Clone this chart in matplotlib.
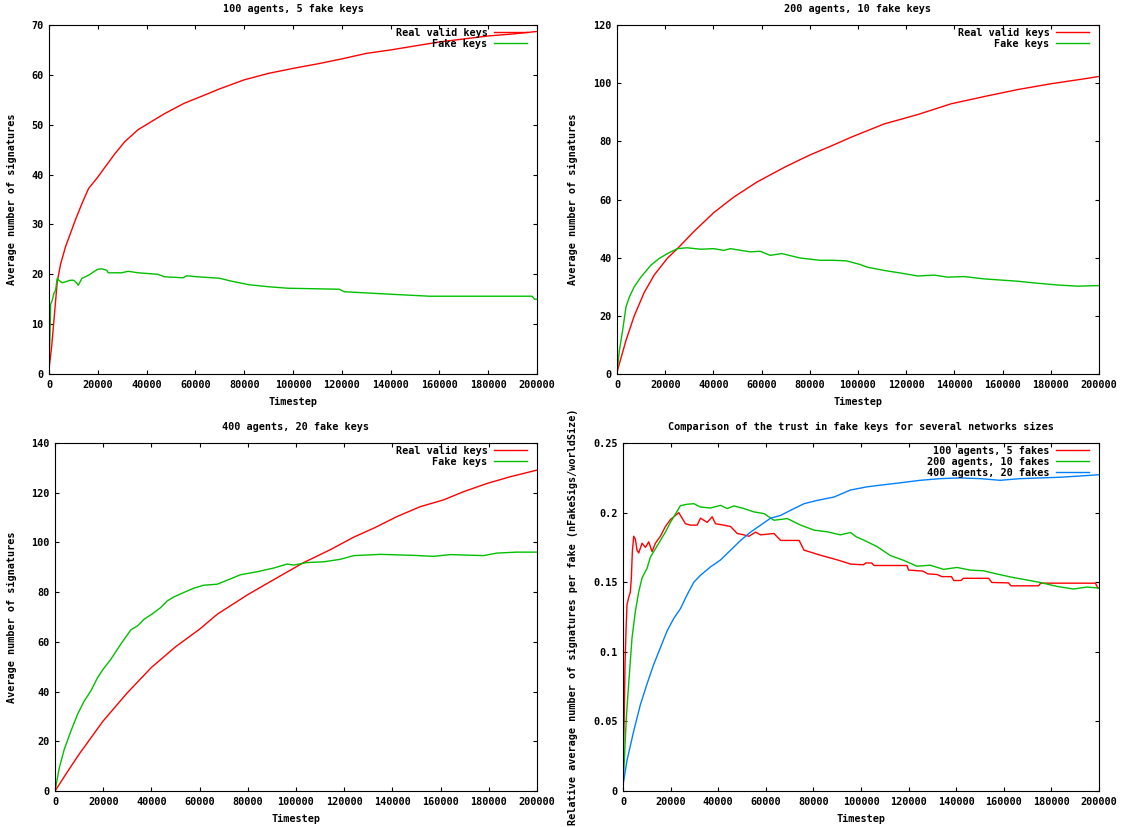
import numpy as np
import matplotlib
matplotlib.use("Agg")
import matplotlib.pyplot as plt
from matplotlib.transforms import Bbox, TransformedBbox

# ---- data ----
# 100 agents, 5 fake keys
p1_real_x = [0, 1081, 2027, 3378, 4730, 6757, 8784, 10811, 13514, 16216, 20000, 22973, 27027,
             31081, 36486, 39865, 47297, 55405, 60000, 70000, 80000, 90000, 100000, 110000,
             120000, 130000, 140000, 150000, 160000, 170000, 180000, 190000, 200000]
p1_real_y = [1.0, 5.5, 10.8, 18.5, 22.0, 25.5, 28.2, 30.9, 34.2, 37.2, 39.5, 41.5, 44.2,
             46.6, 49.0, 50.0, 52.2, 54.3, 55.2, 57.2, 59.0, 60.3, 61.3, 62.2,
             63.2, 64.3, 65.0, 65.8, 66.6, 67.2, 67.8, 68.2, 68.7]
p1_fake_x = [0, 405, 676, 1351, 2027, 2703, 3378, 4054, 5405, 6757, 8784, 10135, 11486, 12000,
             13514, 16216, 18919, 20000, 21622, 23649, 24324, 29730, 32432, 36486, 44595,
             47297, 55000, 56500, 60811, 70000, 74000, 82000, 90000, 98000, 119000, 121000,
             140000, 156000, 176000, 198000, 199000, 200000]
p1_fake_y = [1.5, 8, 14, 14.8, 16.2, 16.8, 19.2, 18.8, 18.3, 18.5, 18.8, 18.8, 18.2, 17.8,
             19.2, 19.8, 20.7, 21.0, 21.1, 20.8, 20.3, 20.3, 20.6, 20.3, 20.0,
             19.5, 19.3, 19.7, 19.5, 19.2, 18.7, 17.9, 17.5, 17.2, 17.0, 16.5,
             16.0, 15.6, 15.6, 15.6, 15.0, 15.0]

# 200 agents, 10 fake keys
p2_real_x = [0, 1651, 3714, 7153, 11279, 15405, 20908, 25309, 31912, 40165, 48418, 58047,
             70000, 80000, 90000, 97100, 110900, 124770, 138600, 152400, 166260, 180100,
             193900, 200000]
p2_real_y = [0.6, 5.5, 11.5, 20.0, 28.0, 34.0, 39.8, 43.3, 49.0, 55.5, 60.8, 66.0,
             71.3, 75.3, 78.8, 81.4, 86.0, 89.2, 92.9, 95.4, 97.8, 99.8,
             101.5, 102.3]
p2_fake_x = [0, 963, 2338, 3714, 5089, 7153, 9904, 14030, 17469, 20908, 25034, 29161, 34663,
             40165, 44292, 47043, 55296, 59422, 63549, 68363, 75928, 84182, 89684, 95186,
             100688, 104000, 110900, 117800, 124770, 131700, 137200, 144100, 152400, 159300,
             166300, 174600, 182900, 191200, 200000]
p2_fake_y = [0.6, 8, 15, 23, 26.4, 30, 33.3, 37.4, 39.7, 41.4, 43.1, 43.4, 42.9,
             43.1, 42.5, 43.1, 42.0, 42.2, 40.8, 41.4, 39.9, 39.1, 39.1, 38.9,
             37.7, 36.7, 35.6, 34.7, 33.7, 34.0, 33.3, 33.5, 32.7, 32.3,
             31.9, 31.2, 30.6, 30.2, 30.4]

# 400 agents, 20 fake keys
p3_real_x = [0, 5000, 10000, 20000, 30000, 40000, 50000, 60000, 67310, 80000, 90000, 103170,
             114300, 123900, 132200, 141900, 151600, 161200, 169500, 179200, 188800, 200000]
p3_real_y = [0, 7.5, 14.8, 28.2, 39.5, 49.7, 58.0, 65.1, 71.1, 79.0, 84.6, 91.9,
             97.1, 102.1, 105.7, 110.4, 114.4, 117.1, 120.4, 123.7, 126.4, 129.1]
p3_fake_x = [0, 1793, 3862, 6621, 9379, 12138, 14897, 17655, 20000, 23172, 27310, 31448, 34207,
             36966, 40138, 43862, 46621, 49379, 53517, 57655, 61793, 67310, 71448, 76966,
             83862, 90759, 96276, 99034, 104552, 111448, 118345, 124000, 135000, 148800,
             157000, 164000, 177800, 183300, 191600, 200000]
p3_fake_y = [0, 9.4, 16.8, 24.2, 30.9, 36.2, 40.3, 45.6, 49.0, 53.0, 59.1, 64.8, 66.4,
             69.1, 71.1, 73.8, 76.5, 78.1, 79.9, 81.6, 82.8, 83.2, 84.8, 87.0,
             88.2, 89.7, 91.3, 90.9, 91.9, 92.2, 93.2, 94.7, 95.2, 94.8,
             94.4, 95.1, 94.7, 95.7, 96.1, 96.1]

# comparison: relative fake signatures
c100_x = [0, 281, 561, 842, 1263, 1684, 2386, 3088, 3509, 3930, 4491, 5193, 5895, 6596, 8000,
          9404, 10807, 12211, 13614, 15719, 17825, 19930, 22035, 23439, 24842, 26246, 28351,
          31158, 32561, 35368, 37474, 38877, 42386, 45193, 48000, 50807, 52912, 55719, 57825,
          63439, 66246, 74000, 76070, 80000, 81684, 85895, 90105, 95719, 101000, 102000,
          104500, 105500, 119300, 120000, 126000, 128000, 132000, 134000, 138000, 139000,
          142000, 143000, 153600, 155000, 162000, 163000, 174600, 175500, 198500, 199500,
          200000]
c100_y = [0.005, 0.034, 0.058, 0.091, 0.115, 0.134, 0.139, 0.143, 0.153, 0.172, 0.183, 0.181,
          0.173, 0.171, 0.178, 0.175, 0.179, 0.172, 0.178, 0.183, 0.190, 0.195, 0.198, 0.200,
          0.196, 0.192, 0.191, 0.191, 0.196, 0.193, 0.197, 0.192, 0.191, 0.190, 0.185, 0.184,
          0.183, 0.186, 0.184, 0.185, 0.180, 0.180, 0.173, 0.171, 0.170, 0.168, 0.166, 0.163,
          0.1625, 0.1638, 0.1638, 0.162, 0.162, 0.1587, 0.158, 0.156, 0.1555, 0.154, 0.154,
          0.1512, 0.1512, 0.1528, 0.1528, 0.1498, 0.1495, 0.1474, 0.1474, 0.1493, 0.1493,
          0.1458, 0.1458]
c200_x = [0, 561, 1404, 2386, 3790, 5193, 6596, 8000, 10105, 11509, 13614, 15719, 17825, 19930,
          22035, 24140, 26947, 29754, 32561, 36772, 40982, 43789, 46596, 50807, 55018, 59228,
          63439, 69053, 74667, 80281, 85895, 91300, 95600, 98000, 101100, 106700, 112300,
          117900, 123500, 129100, 134700, 140300, 145900, 151500, 157100, 164100, 169700,
          175300, 182300, 189300, 194900, 200000]
c200_y = [0.003, 0.022, 0.053, 0.077, 0.110, 0.129, 0.143, 0.153, 0.160, 0.168, 0.174, 0.180,
          0.186, 0.193, 0.199, 0.205, 0.206, 0.2064, 0.204, 0.2033, 0.2052, 0.2029, 0.2048,
          0.2029, 0.2005, 0.1993, 0.1945, 0.1957, 0.191, 0.1874, 0.1862, 0.184, 0.1857,
          0.1826, 0.1803, 0.1756, 0.1692, 0.1657, 0.1615, 0.1622, 0.1592, 0.1606, 0.1587,
          0.1582, 0.1559, 0.1533, 0.1516, 0.1498, 0.147, 0.1451, 0.1465, 0.1458]
c400_x = [0, 1684, 4491, 7298, 10105, 12912, 15719, 18526, 21333, 24140, 26947, 29754, 32561,
          36772, 40982, 45193, 49404, 53614, 57825, 62035, 66246, 70456, 76070, 81684, 88702,
          95500, 102500, 108100, 116500, 124900, 133300, 141700, 150100, 158500, 166900,
          175300, 183700, 192100, 200000]
c400_y = [0.004, 0.022, 0.043, 0.062, 0.077, 0.091, 0.103, 0.115, 0.124, 0.131, 0.141, 0.150,
          0.155, 0.161, 0.166, 0.173, 0.180, 0.186, 0.191, 0.196, 0.198, 0.2017, 0.2064,
          0.2088, 0.2112, 0.2162, 0.2185, 0.2197, 0.2214, 0.2232, 0.2244, 0.2249, 0.2244,
          0.2232, 0.2244, 0.2249, 0.2254, 0.2263, 0.2272]

x_ticks = [0, 20000, 40000, 60000, 80000, 100000, 120000, 140000, 160000, 180000, 200000]
p1_yticks = [0, 10, 20, 30, 40, 50, 60, 70]
p2_yticks = [0, 20, 40, 60, 80, 100, 120]
p3_yticks = [0, 20, 40, 60, 80, 100, 120, 140]
c_yticks = [0, 0.05, 0.1, 0.15, 0.2, 0.25]
c_ylabels = ["0", "0.05", "0.1", "0.15", "0.2", "0.25"]

RED, GREEN, BLUE = "#ff0000", "#00c000", "#0080ff"
FS = 7.3

plt.rcParams["font.family"] = ["DejaVu Sans Mono"]
plt.rcParams["font.weight"] = "bold"
plt.rcParams["font.size"] = FS

fig = plt.figure(figsize=(11.24, 8.27), dpi=100)
W, H = 1124, 827


def make_axes(l, r, t, b):
    return fig.add_axes([l / W, 1 - b / H, (r - l) / W, (b - t) / H])


def style(ax, yticks, ylim, title, ylabel, ylab_x, ylabels=None, clip_right=None):
    ax.set_xlim(0, 200000)
    ax.set_ylim(*ylim)
    ax.set_xticks(x_ticks)
    ax.set_xticklabels([str(v) for v in x_ticks], fontweight="bold")
    ax.set_yticks(yticks)
    ax.set_yticklabels(ylabels if ylabels else [str(v) for v in yticks], fontweight="bold")
    ax.tick_params(direction="in", length=3, width=0.8, top=True, right=True, pad=4)
    for s in ax.spines.values():
        s.set_linewidth(0.8)
    ax.set_title(title, fontsize=FS, fontweight="bold", pad=9)
    ax.set_xlabel("Timestep", fontsize=FS, fontweight="bold", labelpad=5)
    ax.set_ylabel(ylabel, fontsize=FS, fontweight="bold")
    ax.yaxis.set_label_coords(ylab_x, 0.5)
    if clip_right is not None:
        # each panel was its own image in the original, so the last label gets cut
        cb = TransformedBbox(Bbox([[0, 0], [clip_right / W, 1]]), fig.transFigure)
        for t in ax.xaxis.get_major_ticks():
            t.label1.set_clip_on(True)
            t.label1.set_clip_box(cb)


def legend(ax, dx, dy):
    ax.legend(loc="upper right", bbox_to_anchor=(dx, dy), frameon=False, markerfirst=False,
              alignment="right", handlelength=3.3, handletextpad=0.6, labelspacing=0.1,
              borderaxespad=0, borderpad=0, prop={"weight": "bold", "size": FS})


ax1 = make_axes(49, 537, 25, 374)
ax1.plot(p1_real_x, p1_real_y, color=RED, lw=1, label="Real valid keys")
ax1.plot(p1_fake_x, p1_fake_y, color=GREEN, lw=1, label="Fake keys")
style(ax1, p1_yticks, (0, 70), "100 agents, 5 fake keys", "Average number of signatures",
      -0.066, clip_right=557)
legend(ax1, 1 - 10 / 488, 1 - 3 / 349)

ax2 = make_axes(617, 1099, 25, 374)
ax2.plot(p2_real_x, p2_real_y, color=RED, lw=1, label="Real valid keys")
ax2.plot(p2_fake_x, p2_fake_y, color=GREEN, lw=1, label="Fake keys")
style(ax2, p2_yticks, (0, 120), "200 agents, 10 fake keys", "Average number of signatures",
      -0.081, clip_right=1120)
legend(ax2, 1 - 10 / 482, 1 - 3 / 349)

ax3 = make_axes(55, 537, 443, 791)
ax3.plot(p3_real_x, p3_real_y, color=RED, lw=1, label="Real valid keys")
ax3.plot(p3_fake_x, p3_fake_y, color=GREEN, lw=1, label="Fake keys")
style(ax3, p3_yticks, (0, 140), "400 agents, 20 fake keys", "Average number of signatures",
      -0.079, clip_right=557)
legend(ax3, 1 - 10 / 482, 1 - 3 / 348)

ax4 = make_axes(623, 1099, 443, 791)
ax4.plot(c100_x, c100_y, color=RED, lw=1, label="100 agents, 5 fakes")
ax4.plot(c200_x, c200_y, color=GREEN, lw=1, label="200 agents, 10 fakes")
ax4.plot(c400_x, c400_y, color=BLUE, lw=1, label="400 agents, 20 fakes")
style(ax4, c_yticks, (0, 0.25), "Comparison of the trust in fake keys for several networks sizes",
      "Relative average number of signatures per fake (nFakeSigs/worldSize)", -0.095,
      ylabels=c_ylabels, clip_right=1120)
legend(ax4, 1 - 10 / 476, 1 - 3 / 348)

fig.savefig("out.png", dpi=100)
